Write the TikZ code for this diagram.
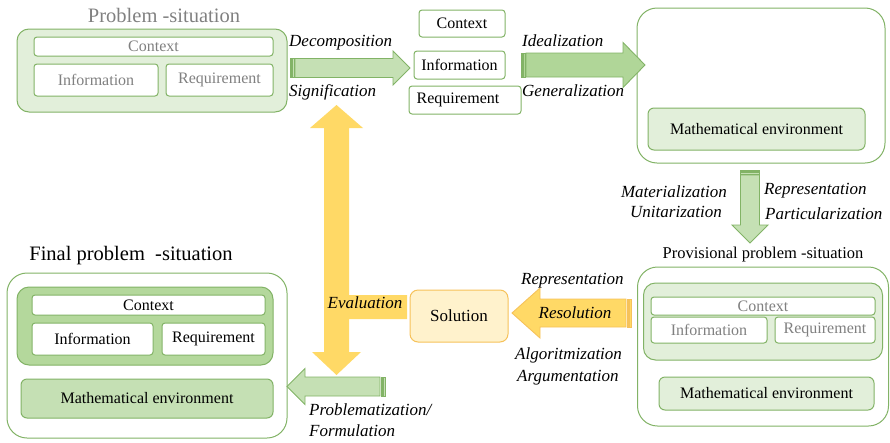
\documentclass[tikz,border=0pt]{standalone}
\usepackage{fontspec}
\setmainfont{Liberation Serif}
\definecolor{gb}{HTML}{82B366}
\definecolor{lf}{HTML}{E2EFDA}
\definecolor{af}{HTML}{C5E0B4}
\definecolor{af2}{HTML}{B0D698}
\definecolor{ff}{HTML}{B4D89C}
\definecolor{gt}{HTML}{808080}
\definecolor{yl}{HTML}{FFD966}
\definecolor{ylf}{HTML}{FFF2CC}
\definecolor{ylb}{HTML}{F6C25A}
\tikzset{
  box/.style={draw=gb, line width=1pt, rounded corners=3pt, inner sep=0pt, font=\fontsize{16}{19}\selectfont, fill=white},
  bigbox/.style={draw=gb, line width=1pt, rounded corners=20pt, inner sep=0pt, fill=white},
  lab/.style={font=\fontsize{17}{20}\selectfont\itshape, inner sep=0pt},
  ttl/.style={font=\fontsize{20.5}{24}\selectfont, inner sep=0pt},
  garrow/.style={draw=gb, line width=0.9pt, fill=af, line join=miter},
  garrowd/.style={draw=gb, line width=0.9pt, fill=af2, line join=miter},
  yarrow/.style={draw=ylb, line width=0.9pt, fill=yl, line join=miter},
}
\begin{document}
\begin{tikzpicture}[x=1pt,y=-1pt]
\useasboundingbox (0,0) rectangle (890,442);

% ---------- Problem-situation (top left)
\node[ttl, text=gt] (t1) at (164,15) {Problem -situation};
\node[box, rounded corners=12pt, fill=lf, minimum width=270pt, minimum height=83pt] (ps) at (152,70.5) {};
\node[box, text=gt, minimum width=239pt, minimum height=19pt] (c1) at (153.5,46.5) {Context};
\node[box, text=gt, minimum width=124pt, minimum height=32pt] (i1) at (96,80) {Information};
\node[box, text=gt, minimum width=107pt, minimum height=32pt] (r1) at (219.5,80) {Requirement};

% ---------- decomposed elements
\node[box, minimum width=86pt, minimum height=27pt] (c2) at (462,23.5) {Context};
\node[box, minimum width=91pt, minimum height=28pt] (i2) at (459.5,65) {Information};
\node[box, minimum width=112pt, minimum height=28pt] (r2) at (465,100) {\hspace*{-14pt}Requirement};

% ---------- Mathematical environment (top right)
\node[bigbox, minimum width=248pt, minimum height=155pt] (me) at (761,85.5) {};
\node[box, fill=lf, rounded corners=6pt, minimum width=217pt, minimum height=42pt] (m1) at (756.5,129) {Mathematical environment};

% ---------- Provisional problem-situation
\node[font=\fontsize{16.5}{20}\selectfont, inner sep=0pt] (t2) at (763,255) {Provisional problem -situation};
\node[bigbox, minimum width=251pt, minimum height=159pt] (pp) at (763,346.5) {};
\node[box, fill=lf, rounded corners=12pt, minimum width=239pt, minimum height=77pt] (pin) at (763,321.5) {};
\node[box, text=gt, minimum width=224pt, minimum height=18pt] (c3) at (763,306) {Context};
\node[box, text=gt, minimum width=116pt, minimum height=26pt] (i3) at (709,330) {Information};
\node[box, text=gt, minimum width=100pt, minimum height=26pt] (r3) at (825,330) {Requirement};
\node[box, fill=lf, rounded corners=6pt, minimum width=215pt, minimum height=33pt] (m3) at (766.5,393.5) {Mathematical environment};

% ---------- Final problem-situation
\node[ttl] (t3) at (131,256) {Final problem \ -situation};
\node[bigbox, minimum width=280pt, minimum height=165pt] (fp) at (147,355.5) {};
\node[box, fill=ff, rounded corners=12pt, minimum width=256pt, minimum height=78pt] (fin) at (145,326) {};
\node[box, minimum width=233pt, minimum height=20pt] (c4) at (148.5,305) {Context};
\node[box, minimum width=121pt, minimum height=32pt] (i4) at (92.5,339) {Information};
\node[box, minimum width=103pt, minimum height=32pt] (r4) at (213.5,339) {Requirement};
\node[box, fill=af, rounded corners=6pt, minimum width=252pt, minimum height=39pt] (m4) at (147,398.5) {Mathematical environment};

% ---------- Yellow evaluation arrow
\fill[yl] (324,128) -- (310,128) -- (336.5,105) -- (363,128) -- (349,128)
  -- (349,295) -- (407,295) -- (407,319) -- (349,319)
  -- (349,352) -- (361,352) -- (336.5,375) -- (312,352) -- (324,352) -- cycle;
\node[lab] (ev) at (365,303) {Evaluation};

% ---------- Solution
\node[box, draw=ylb, fill=ylf, rounded corners=8pt, minimum width=98pt, minimum height=52pt, font=\fontsize{17}{20}\selectfont] (sol) at (459,316) {Solution};

% ---------- Decomposition arrow
\draw[garrow] (290,58.5) rectangle (291.5,77.5);
\draw[garrow] (292.5,58.5) rectangle (294,77.5);
\draw[garrow] (295,58.5) -- (393,58.5) -- (393,51) -- (410,68) -- (393,85) -- (393,77.5) -- (295,77.5) -- cycle;
\node[lab, anchor=west] (ldec) at (289,43) {Decomposition};
\node[lab, anchor=west] (lsig) at (289,92) {Signification};

% ---------- Idealization arrow
\draw[garrowd] (521,53) rectangle (522.5,77);
\draw[garrowd] (523.5,53) rectangle (525,77);
\draw[garrowd] (526,53) -- (623,53) -- (623,42.5) -- (645,65) -- (623,87.5) -- (623,77) -- (526,77) -- cycle;
\node[lab, anchor=west] (lide) at (522,41) {Idealization};
\node[lab, anchor=west] (lgen) at (522,91) {Generalization};

% ---------- Down arrow
\draw[garrow] (740.5,170) rectangle (759.5,171.5);
\draw[garrow] (740.5,172.5) rectangle (759.5,174);
\draw[garrow] (740.5,175) -- (740.5,225) -- (732,225) -- (750,243) -- (768,225) -- (759.5,225) -- (759.5,175) -- cycle;
\node[lab, anchor=east] (lmat) at (727,192) {Materialization};
\node[lab, anchor=east] (luni) at (722,212) {Unitarization};
\node[lab, anchor=west] (lrep) at (764,191) {Representation};
\node[lab, anchor=west] (lpar) at (765,214) {Particularization};

% ---------- Resolution arrow
\draw[yarrow] (631,299) rectangle (629.5,327);
\draw[yarrow] (628.5,299) rectangle (627,327);
\draw[yarrow] (626,299) -- (540,299) -- (540,288) -- (512,313) -- (540,338) -- (540,327) -- (626,327) -- cycle;
\node[lab] (lres) at (575,313) {Resolution};
\node[lab, anchor=west] (lrep2) at (521,281) {Representation};
\node[lab, anchor=west] (lalg) at (515,355) {Algoritmization};
\node[lab, anchor=west] (larg) at (517,378) {Argumentation};

% ---------- Problematization arrow
\draw[garrow] (385,377) rectangle (383.5,396);
\draw[garrow] (382.5,377) rectangle (381,396);
\draw[garrow] (380,377) -- (305,377) -- (305,368.5) -- (287,386.5) -- (305,404.5) -- (305,396) -- (380,396) -- cycle;
\node[lab, anchor=west] (lpro) at (309,410) {Problematization/};
\node[lab, anchor=west] (lfor) at (309,431) {Formulation};
\end{tikzpicture}
\end{document}
